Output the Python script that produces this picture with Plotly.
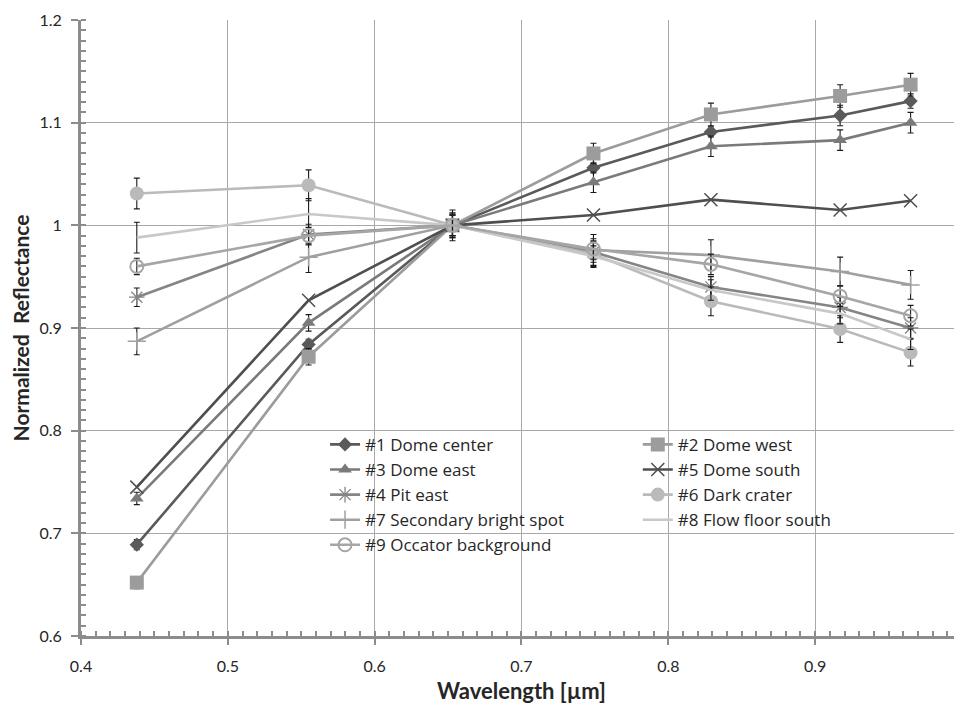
import plotly.graph_objects as go

wavelength = [0.438, 0.555, 0.653, 0.749, 0.829, 0.917, 0.965]

names = ["#1 Dome center", "#2 Dome west", "#3 Dome east", "#5 Dome south",
         "#4 Pit east", "#6 Dark crater", "#7 Secondary bright spot",
         "#8 Flow floor south", "#9 Occator background"]

dome_center = [0.689, 0.884, 1.0, 1.056, 1.091, 1.107, 1.121]
dome_west = [0.652, 0.872, 1.0, 1.070, 1.108, 1.126, 1.137]
dome_east = [0.734, 0.905, 1.0, 1.042, 1.077, 1.083, 1.100]
dome_south = [0.745, 0.927, 1.0, 1.010, 1.025, 1.015, 1.024]
pit_east = [0.930, 0.991, 1.0, 0.974, 0.940, 0.920, 0.900]
dark_crater = [1.031, 1.039, 1.0, 0.972, 0.926, 0.899, 0.876]
secondary_spot = [0.887, 0.969, 1.0, 0.976, 0.971, 0.955, 0.942]
flow_floor_south = [0.988, 1.011, 1.0, 0.970, 0.937, 0.914, 0.889]
occator_bg = [0.960, 0.990, 1.0, 0.977, 0.962, 0.931, 0.912]

err_dome_center = [0.005, 0.005, 0.005, 0.005, 0.005, 0.010, 0.007]
err_dome_west = [0.006, 0.008, 0.010, 0.010, 0.011, 0.011, 0.011]
err_dome_east = [0.006, 0.008, 0.010, 0.010, 0.010, 0.010, 0.010]
err_dome_south = None
err_pit_east = [0.009, 0.010, 0.010, 0.010, 0.010, 0.010, 0.010]
err_dark_crater = [0.015, 0.015, 0.015, 0.013, 0.014, 0.013, 0.013]
err_secondary_spot = [0.013, 0.015, 0.012, 0.015, 0.015, 0.014, 0.014]
err_flow_floor_south = [0.015, 0.015, 0.012, 0.010, 0.010, 0.010, 0.010]
err_occator_bg = [0.008, 0.008, 0.010, 0.010, 0.010, 0.010, 0.010]

series = [dome_center, dome_west, dome_east, dome_south, pit_east,
          dark_crater, secondary_spot, flow_floor_south, occator_bg]
errors = [err_dome_center, err_dome_west, err_dome_east, err_dome_south,
          err_pit_east, err_dark_crater, err_secondary_spot,
          err_flow_floor_south, err_occator_bg]
# legend column for each series (two-column legend, filled row by row)
legend_column = ["legend", "legend2", "legend", "legend2", "legend",
                 "legend2", "legend", "legend2", "legend"]

styles = [
    dict(color="#5a5a5a", symbol="diamond", size=11, mline=0),
    dict(color="#9c9c9c", symbol="square", size=14, mline=0),
    dict(color="#7a7a7a", symbol="triangle-up", size=12, mline=0),
    dict(color="#4f4f4f", symbol="x-thin-open", size=13, mline=1.5),
    dict(color="#858585", symbol="asterisk-open", size=13, mline=1.3),
    dict(color="#bababa", symbol="circle", size=14, mline=0),
    dict(color="#a0a0a0", symbol="cross-thin-open", size=13, mline=1.5),
    dict(color="#c8c8c8", symbol="circle", size=1, mline=0),
    dict(color="#a6a6a6", symbol="circle-open", size=13, mline=2),
]

fig = go.Figure()
for name, ys, err, st, lg in zip(names, series, errors, styles, legend_column):
    eb = dict(visible=False)
    if err is not None:
        eb = dict(type="data", array=err, visible=True, color="#1a1a1a",
                  thickness=1.1, width=3)
    marker = dict(symbol=st["symbol"], size=st["size"], color=st["color"],
                  line=dict(color=st["color"], width=st["mline"]))
    if st["size"] == 1:
        marker = dict(size=1, color=st["color"], opacity=0)
    fig.add_trace(go.Scatter(
        x=wavelength, y=ys, name=name, mode="lines+markers",
        line=dict(color=st["color"], width=2.6),
        marker=marker, error_y=eb, legend=lg,
    ))

font_family = "Lato, 'Open Sans', sans-serif"
legend_style = dict(
    orientation="v", yanchor="top", xanchor="left",
    bgcolor="rgba(0,0,0,0)",
    font=dict(family="'Open Sans', sans-serif", size=17, color="#262626"),
    itemwidth=30, tracegroupgap=0,
)

fig.update_layout(
    width=962, height=704,
    margin=dict(l=73, r=8, t=12, b=76, autoexpand=False),
    paper_bgcolor="white", plot_bgcolor="white",
    font=dict(family=font_family, size=16, color="#262626"),
    showlegend=True,
    legend=dict(x=0.277, y=0.3395, **legend_style),
    legend2=dict(x=0.632, y=0.3395, **legend_style),
    xaxis=dict(
        range=[0.4, 1.00001], dtick=0.1, tick0=0.4,
        showgrid=True, gridcolor="#a8a8a8", gridwidth=1,
        showline=True, linecolor="#8c8c8c", linewidth=3,
        ticks="outside", ticklen=6, tickcolor="#8c8c8c", tickwidth=2,
        minor=dict(dtick=0.01, ticks="inside", ticklen=5, tickcolor="#8c8c8c",
                   tickwidth=1.5, showgrid=False),
        tickfont=dict(size=16, color="#262626"),
        ticklabelstandoff=8,
        title=dict(text="<b>Wavelength [µm]</b>", font=dict(size=22, color="#262626"),
                   standoff=10),
        zeroline=False, automargin=False,
    ),
    yaxis=dict(
        range=[0.6, 1.2], dtick=0.1, tick0=0.6,
        showgrid=True, gridcolor="#a8a8a8", gridwidth=1,
        showline=True, linecolor="#8c8c8c", linewidth=3,
        ticks="outside", ticklen=7, tickcolor="#8c8c8c", tickwidth=2,
        minor=dict(dtick=0.01, ticks="inside", ticklen=5, tickcolor="#8c8c8c",
                   tickwidth=1.5, showgrid=False),
        tickfont=dict(size=16, color="#262626"),
        ticklabelstandoff=6,
        tickformat="~g",
        title=dict(text="<b>Normalized  Reflectance</b>", font=dict(size=21, color="#262626"),
                   standoff=8),
        zeroline=False, automargin=False,
    ),
)

fig.write_html("out.html")
